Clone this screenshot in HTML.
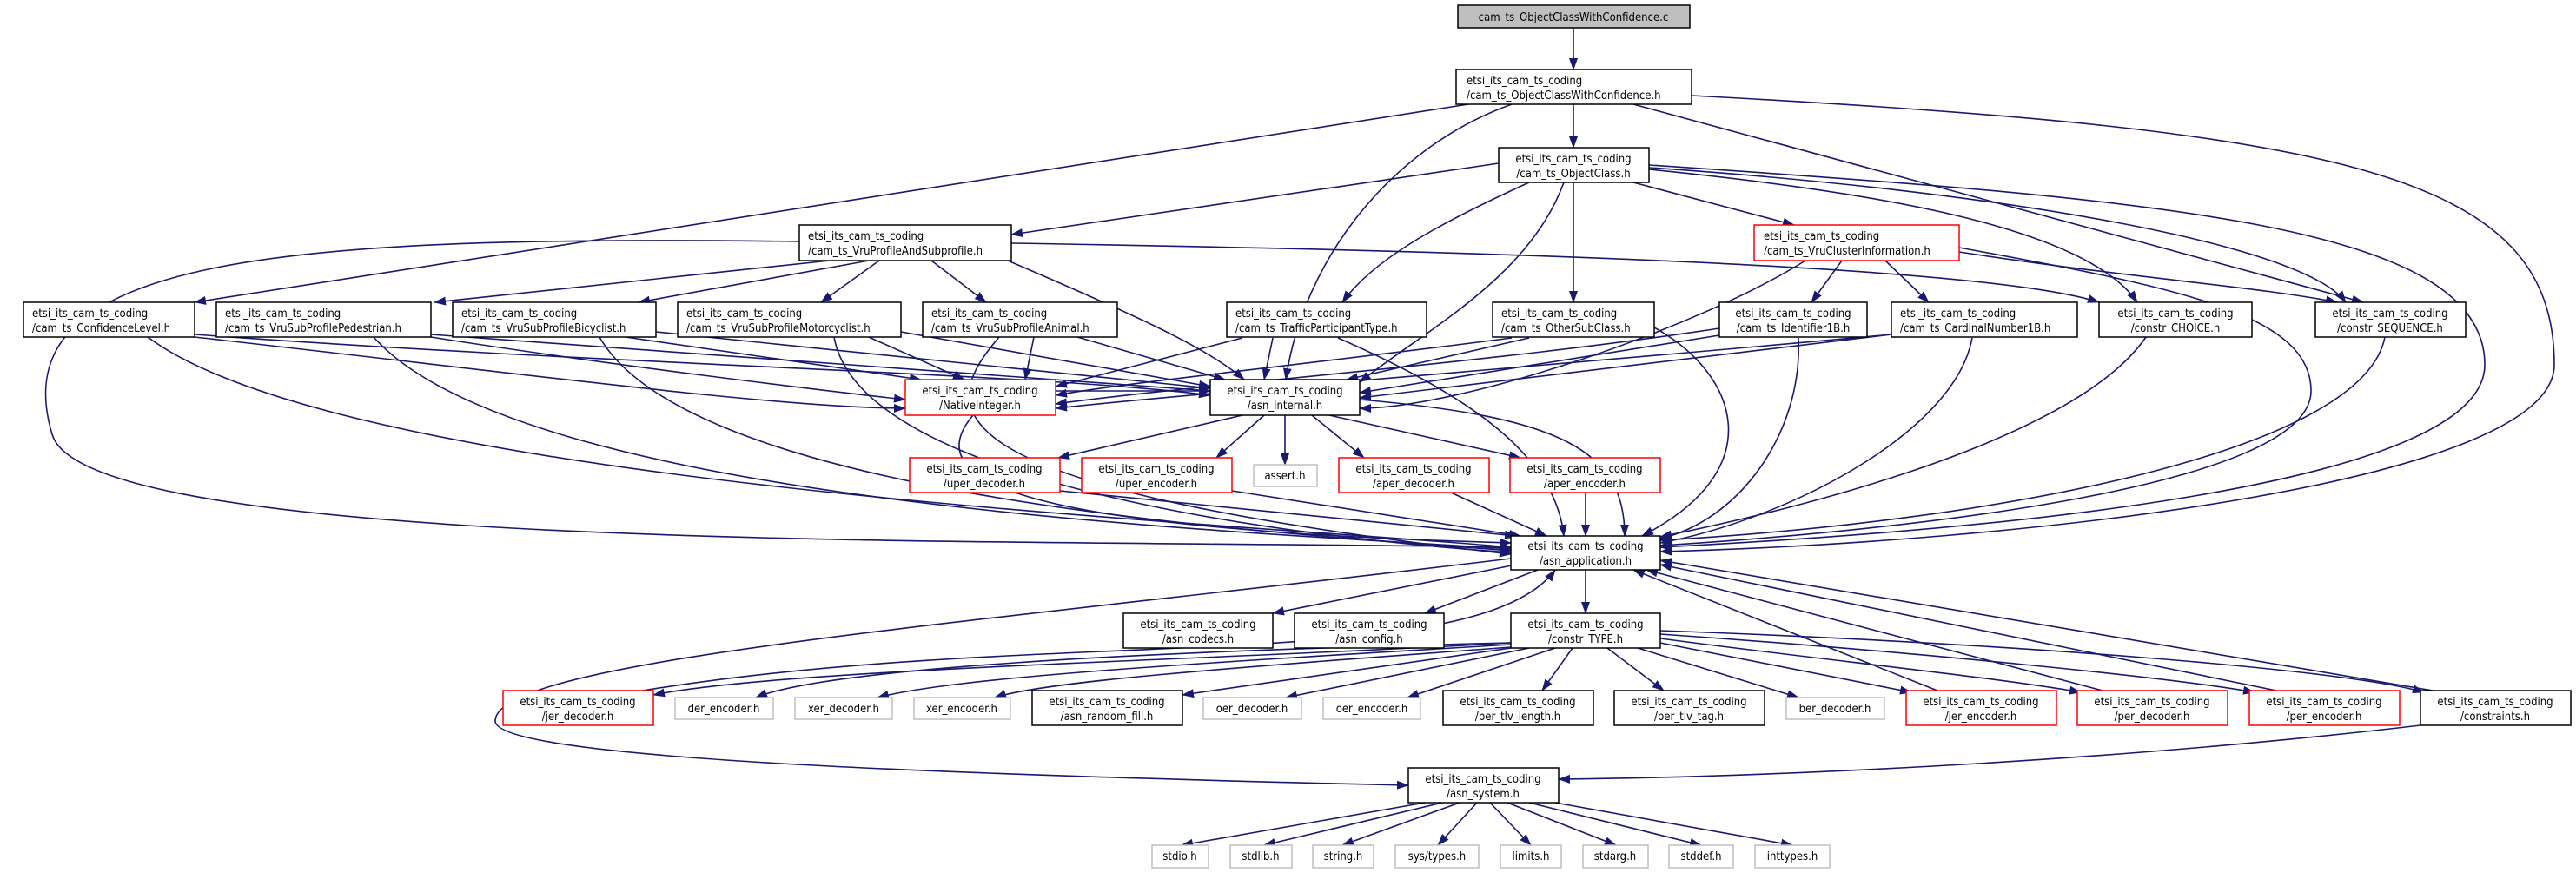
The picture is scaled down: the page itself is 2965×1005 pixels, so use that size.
<!DOCTYPE html>
<html><head><meta charset="utf-8"><style>
html,body{margin:0;padding:0;background:#fff}
svg{display:block}
text{font-family:"DejaVu Sans Condensed","DejaVu Sans","Liberation Sans",sans-serif;font-size:13px;fill:#000}
.e{fill:none;stroke:#191970;stroke-width:1.6}
.b{fill:#fff;stroke:#000;stroke-width:1.5}
.g{fill:#fff;stroke:#bfbfbf;stroke-width:1.5}
.r{fill:#fff;stroke:#ff0000;stroke-width:1.5}
</style></head><body>
<svg width="2965" height="1005" viewBox="0 0 2965 1005" xmlns="http://www.w3.org/2000/svg">
<defs><marker id="a" markerUnits="userSpaceOnUse" markerWidth="14" markerHeight="10" refX="13" refY="5" orient="auto"><path d="M0,0 L14,5 L0,10 z" fill="#191970"/></marker></defs>
<g class="e" marker-end="url(#a)">
<path d="M1811,32 L1811,80"/>
<path d="M1811,120 L1811,170"/>
<path d="M1690,120 L224,348"/>
<path d="M1740,120 C1600,170 1500,300 1480,437"/>
<path d="M1880,120 L2720,348"/>
<path d="M1947,110 C2700,150 2940,200 2940,420 C2940,560 2300,625 1911,635"/>
<path d="M1725,188 L1164,270"/>
<path d="M1760,210 C1650,260 1580,300 1545,348"/>
<path d="M1811,210 L1811,348"/>
<path d="M1800,210 C1760,320 1640,380 1565,440"/>
<path d="M1880,210 L2065,259"/>
<path d="M1898,195 C2150,220 2400,260 2460,348"/>
<path d="M1898,193 C2300,220 2650,280 2700,348"/>
<path d="M1898,190 C2500,230 2860,260 2860,420 C2860,560 2300,610 1911,630"/>
<path d="M955,300 L500,348"/>
<path d="M1000,300 L735,348"/>
<path d="M1012,300 L945,348"/>
<path d="M1072,300 L1135,348"/>
<path d="M1160,300 C1300,360 1390,400 1432,437"/>
<path d="M1164,280 C1800,290 2300,310 2416,348"/>
<path d="M920,278 C300,270 0,300 60,500 C100,640 1200,620 1739,630"/>
<path d="M224,388 C600,430 900,470 1042,470"/>
<path d="M224,385 C700,420 1200,430 1393,455"/>
<path d="M170,388 C400,560 1400,600 1739,630"/>
<path d="M496,388 C700,420 950,450 1042,460"/>
<path d="M496,385 L1393,450"/>
<path d="M430,388 C600,580 1400,610 1739,632"/>
<path d="M720,388 L1060,437"/>
<path d="M755,382 L1393,447"/>
<path d="M690,388 C800,580 1500,615 1739,634"/>
<path d="M1000,388 L1110,437"/>
<path d="M1037,382 L1393,445"/>
<path d="M960,388 C990,560 1500,620 1739,636"/>
<path d="M1190,388 L1180,437"/>
<path d="M1240,388 L1410,437"/>
<path d="M1150,388 C1080,470 1050,560 1739,638"/>
<path d="M1430,389 L1215,445"/>
<path d="M1465,389 L1455,437"/>
<path d="M1540,389 C1680,450 1790,520 1800,617"/>
<path d="M1740,389 C1500,420 1300,440 1215,455"/>
<path d="M1760,389 L1550,437"/>
<path d="M1904,377 C2000,430 2040,540 1890,617"/>
<path d="M1979,378 C1700,420 1400,440 1215,465"/>
<path d="M1985,385 L1565,452"/>
<path d="M2070,389 C2075,500 2000,600 1911,620"/>
<path d="M2177,385 C1800,420 1400,450 1215,470"/>
<path d="M2177,385 L1565,458"/>
<path d="M2270,389 C2250,500 2050,600 1911,625"/>
<path d="M2120,300 L2085,348"/>
<path d="M2170,300 L2220,348"/>
<path d="M2078,300 C1950,380 1680,470 1565,470"/>
<path d="M2255,290 C2450,320 2600,330 2690,348"/>
<path d="M2255,285 C2500,330 2660,360 2660,450 C2660,560 2200,610 1911,628"/>
<path d="M2470,388 C2380,520 2000,600 1911,618"/>
<path d="M2745,388 C2720,520 2300,600 1911,622"/>
<path d="M1215,450 L1393,450"/>
<path d="M1120,478 C1050,560 1200,610 1739,625"/>
<path d="M1430,478 L1218,527"/>
<path d="M1455,478 L1400,527"/>
<path d="M1479,478 L1479,535"/>
<path d="M1510,478 L1570,527"/>
<path d="M1530,478 L1750,527"/>
<path d="M1565,460 C1800,480 1870,520 1870,617"/>
<path d="M1220,565 L1745,617"/>
<path d="M1418,565 L1750,617"/>
<path d="M1670,567 L1780,617"/>
<path d="M1825,567 L1825,617"/>
<path d="M1745,650 L1465,706"/>
<path d="M1770,656 L1640,706"/>
<path d="M1825,656 L1825,706"/>
<path d="M1739,643 C1100,720 570,760 570,830 C570,870 1000,890 1621,904"/>
<path d="M740,795 C1200,720 1700,780 1790,656"/>
<path d="M2230,795 L1880,656"/>
<path d="M2420,795 L1895,656"/>
<path d="M2620,795 L1911,650"/>
<path d="M2800,795 L1911,645"/>
<path d="M1739,740 C1400,760 900,770 752,800"/>
<path d="M1739,740 C1300,750 950,770 870,803"/>
<path d="M1739,742 C1350,765 1100,780 1010,803"/>
<path d="M1739,745 C1400,770 1200,785 1145,803"/>
<path d="M1739,746 L1361,800"/>
<path d="M1760,746 L1480,803"/>
<path d="M1790,746 L1620,803"/>
<path d="M1810,746 L1775,795"/>
<path d="M1850,746 L1915,795"/>
<path d="M1885,746 L2070,803"/>
<path d="M1911,740 L2200,797"/>
<path d="M1911,735 C2100,760 2300,780 2395,797"/>
<path d="M1911,730 C2200,750 2500,780 2595,797"/>
<path d="M1911,726 C2300,740 2700,770 2790,797"/>
<path d="M2786,835 C2400,880 2000,895 1794,897"/>
<path d="M1640,924 L1360,973"/>
<path d="M1660,924 L1455,973"/>
<path d="M1680,924 L1545,973"/>
<path d="M1700,924 L1655,973"/>
<path d="M1715,924 L1762,973"/>
<path d="M1735,924 L1860,973"/>
<path d="M1760,924 L1958,973"/>
<path d="M1790,924 L2063,973"/>
</g>
<!-- nodes -->
<rect x="1678" y="6" width="267" height="26" fill="#bfbfbf" stroke="#000" stroke-width="1.5"/>
<text x="1811" y="24" text-anchor="middle">cam_ts_ObjectClassWithConfidence.c</text>

<rect class="b" x="1676" y="80" width="271" height="40"/>
<text x="1688" y="97">etsi_its_cam_ts_coding</text><text x="1688" y="114">/cam_ts_ObjectClassWithConfidence.h</text>

<rect class="b" x="1725" y="170" width="173" height="40"/>
<text x="1811" y="187" text-anchor="middle">etsi_its_cam_ts_coding</text><text x="1811" y="204" text-anchor="middle">/cam_ts_ObjectClass.h</text>

<rect class="b" x="920" y="259" width="244" height="41"/>
<text x="930" y="276">etsi_its_cam_ts_coding</text><text x="930" y="293">/cam_ts_VruProfileAndSubprofile.h</text>

<rect class="r" x="2019" y="259" width="236" height="41"/>
<text x="2030" y="276">etsi_its_cam_ts_coding</text><text x="2030" y="293">/cam_ts_VruClusterInformation.h</text>

<rect class="b" x="27" y="348" width="197" height="40"/>
<text x="37" y="365">etsi_its_cam_ts_coding</text><text x="37" y="382">/cam_ts_ConfidenceLevel.h</text>
<rect class="b" x="249" y="348" width="247" height="40"/>
<text x="259" y="365">etsi_its_cam_ts_coding</text><text x="259" y="382">/cam_ts_VruSubProfilePedestrian.h</text>
<rect class="b" x="521" y="348" width="234" height="40"/>
<text x="531" y="365">etsi_its_cam_ts_coding</text><text x="531" y="382">/cam_ts_VruSubProfileBicyclist.h</text>
<rect class="b" x="780" y="348" width="257" height="40"/>
<text x="790" y="365">etsi_its_cam_ts_coding</text><text x="790" y="382">/cam_ts_VruSubProfileMotorcyclist.h</text>
<rect class="b" x="1062" y="348" width="224" height="40"/>
<text x="1072" y="365">etsi_its_cam_ts_coding</text><text x="1072" y="382">/cam_ts_VruSubProfileAnimal.h</text>
<rect class="b" x="1412" y="348" width="230" height="40"/>
<text x="1422" y="365">etsi_its_cam_ts_coding</text><text x="1422" y="382">/cam_ts_TrafficParticipantType.h</text>
<rect class="b" x="1718" y="348" width="186" height="40"/>
<text x="1728" y="365">etsi_its_cam_ts_coding</text><text x="1728" y="382">/cam_ts_OtherSubClass.h</text>
<rect class="b" x="1979" y="348" width="170" height="40"/>
<text x="2064" y="365" text-anchor="middle">etsi_its_cam_ts_coding</text><text x="2064" y="382" text-anchor="middle">/cam_ts_Identifier1B.h</text>
<rect class="b" x="2177" y="348" width="214" height="40"/>
<text x="2187" y="365">etsi_its_cam_ts_coding</text><text x="2187" y="382">/cam_ts_CardinalNumber1B.h</text>
<rect class="b" x="2416" y="348" width="176" height="40"/>
<text x="2504" y="365" text-anchor="middle">etsi_its_cam_ts_coding</text><text x="2504" y="382" text-anchor="middle">/constr_CHOICE.h</text>
<rect class="b" x="2665" y="348" width="173" height="40"/>
<text x="2751" y="365" text-anchor="middle">etsi_its_cam_ts_coding</text><text x="2751" y="382" text-anchor="middle">/constr_SEQUENCE.h</text>

<rect class="r" x="1042" y="437" width="173" height="41"/>
<text x="1128" y="454" text-anchor="middle">etsi_its_cam_ts_coding</text><text x="1128" y="471" text-anchor="middle">/NativeInteger.h</text>
<rect class="b" x="1393" y="437" width="172" height="41"/>
<text x="1479" y="454" text-anchor="middle">etsi_its_cam_ts_coding</text><text x="1479" y="471" text-anchor="middle">/asn_internal.h</text>

<rect class="r" x="1047" y="527" width="173" height="40"/>
<text x="1133" y="544" text-anchor="middle">etsi_its_cam_ts_coding</text><text x="1133" y="561" text-anchor="middle">/uper_decoder.h</text>
<rect class="r" x="1245" y="527" width="173" height="40"/>
<text x="1331" y="544" text-anchor="middle">etsi_its_cam_ts_coding</text><text x="1331" y="561" text-anchor="middle">/uper_encoder.h</text>
<rect class="g" x="1443" y="535" width="73" height="25"/>
<text x="1479" y="552" text-anchor="middle">assert.h</text>
<rect class="r" x="1541" y="527" width="173" height="40"/>
<text x="1627" y="544" text-anchor="middle">etsi_its_cam_ts_coding</text><text x="1627" y="561" text-anchor="middle">/aper_decoder.h</text>
<rect class="r" x="1738" y="527" width="173" height="40"/>
<text x="1824" y="544" text-anchor="middle">etsi_its_cam_ts_coding</text><text x="1824" y="561" text-anchor="middle">/aper_encoder.h</text>

<rect class="b" x="1739" y="617" width="172" height="39"/>
<text x="1825" y="633" text-anchor="middle">etsi_its_cam_ts_coding</text><text x="1825" y="650" text-anchor="middle">/asn_application.h</text>

<rect class="b" x="1293" y="706" width="172" height="40"/>
<text x="1379" y="723" text-anchor="middle">etsi_its_cam_ts_coding</text><text x="1379" y="740" text-anchor="middle">/asn_codecs.h</text>
<rect class="b" x="1490" y="706" width="172" height="40"/>
<text x="1576" y="723" text-anchor="middle">etsi_its_cam_ts_coding</text><text x="1576" y="740" text-anchor="middle">/asn_config.h</text>
<rect class="b" x="1739" y="706" width="172" height="40"/>
<text x="1825" y="723" text-anchor="middle">etsi_its_cam_ts_coding</text><text x="1825" y="740" text-anchor="middle">/constr_TYPE.h</text>

<rect class="r" x="579" y="795" width="173" height="40"/>
<text x="665" y="812" text-anchor="middle">etsi_its_cam_ts_coding</text><text x="665" y="829" text-anchor="middle">/jer_decoder.h</text>
<rect class="g" x="777" y="803" width="113" height="25"/><text x="833" y="820" text-anchor="middle">der_encoder.h</text>
<rect class="g" x="915" y="803" width="112" height="25"/><text x="971" y="820" text-anchor="middle">xer_decoder.h</text>
<rect class="g" x="1052" y="803" width="111" height="25"/><text x="1107" y="820" text-anchor="middle">xer_encoder.h</text>
<rect class="b" x="1188" y="795" width="173" height="40"/>
<text x="1274" y="812" text-anchor="middle">etsi_its_cam_ts_coding</text><text x="1274" y="829" text-anchor="middle">/asn_random_fill.h</text>
<rect class="g" x="1385" y="803" width="113" height="25"/><text x="1441" y="820" text-anchor="middle">oer_decoder.h</text>
<rect class="g" x="1523" y="803" width="112" height="25"/><text x="1579" y="820" text-anchor="middle">oer_encoder.h</text>
<rect class="b" x="1661" y="795" width="173" height="40"/>
<text x="1747" y="812" text-anchor="middle">etsi_its_cam_ts_coding</text><text x="1747" y="829" text-anchor="middle">/ber_tlv_length.h</text>
<rect class="b" x="1858" y="795" width="173" height="40"/>
<text x="1944" y="812" text-anchor="middle">etsi_its_cam_ts_coding</text><text x="1944" y="829" text-anchor="middle">/ber_tlv_tag.h</text>
<rect class="g" x="2056" y="803" width="113" height="25"/><text x="2112" y="820" text-anchor="middle">ber_decoder.h</text>
<rect class="r" x="2194" y="795" width="173" height="40"/>
<text x="2280" y="812" text-anchor="middle">etsi_its_cam_ts_coding</text><text x="2280" y="829" text-anchor="middle">/jer_encoder.h</text>
<rect class="r" x="2391" y="795" width="173" height="40"/>
<text x="2477" y="812" text-anchor="middle">etsi_its_cam_ts_coding</text><text x="2477" y="829" text-anchor="middle">/per_decoder.h</text>
<rect class="r" x="2589" y="795" width="173" height="40"/>
<text x="2675" y="812" text-anchor="middle">etsi_its_cam_ts_coding</text><text x="2675" y="829" text-anchor="middle">/per_encoder.h</text>
<rect class="b" x="2786" y="795" width="173" height="40"/>
<text x="2872" y="812" text-anchor="middle">etsi_its_cam_ts_coding</text><text x="2872" y="829" text-anchor="middle">/constraints.h</text>

<rect class="b" x="1621" y="884" width="173" height="40"/>
<text x="1707" y="901" text-anchor="middle">etsi_its_cam_ts_coding</text><text x="1707" y="918" text-anchor="middle">/asn_system.h</text>

<rect class="g" x="1326" y="973" width="65" height="26"/><text x="1358" y="990" text-anchor="middle">stdio.h</text>
<rect class="g" x="1416" y="973" width="71" height="26"/><text x="1451" y="990" text-anchor="middle">stdlib.h</text>
<rect class="g" x="1511" y="973" width="70" height="26"/><text x="1546" y="990" text-anchor="middle">string.h</text>
<rect class="g" x="1606" y="973" width="96" height="26"/><text x="1654" y="990" text-anchor="middle">sys/types.h</text>
<rect class="g" x="1727" y="973" width="70" height="26"/><text x="1762" y="990" text-anchor="middle">limits.h</text>
<rect class="g" x="1822" y="973" width="75" height="26"/><text x="1859" y="990" text-anchor="middle">stdarg.h</text>
<rect class="g" x="1921" y="973" width="74" height="26"/><text x="1958" y="990" text-anchor="middle">stddef.h</text>
<rect class="g" x="2020" y="973" width="86" height="26"/><text x="2063" y="990" text-anchor="middle">inttypes.h</text>
</svg>
</body></html>
